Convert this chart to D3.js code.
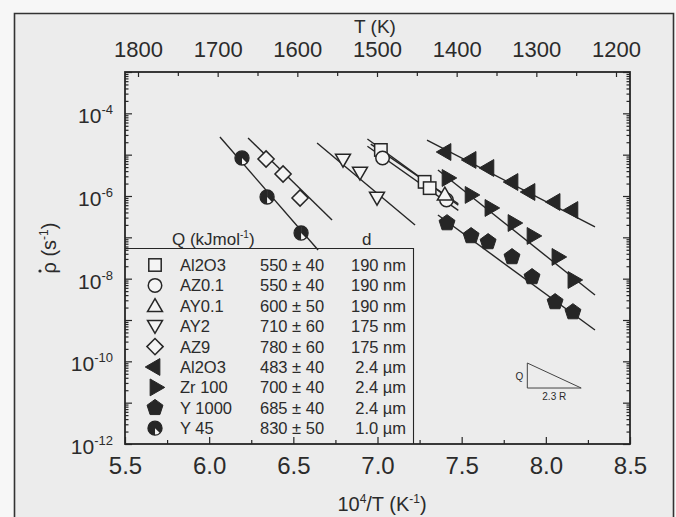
<!DOCTYPE html>
<html>
<head>
<meta charset="utf-8">
<script src="https://cdn.jsdelivr.net/npm/d3@7"></script>
<style>
  body { margin: 0; background: #f7f7f7; }
  svg text { font-family: "Liberation Sans", Arial, Helvetica, sans-serif; fill: #2b2b2b; }
</style>
</head>
<body>
<svg id="chart" width="676" height="517"></svg>
<script>
// ---- axis ticks ----
const xTicks = [5.5, 6.0, 6.5, 7.0, 7.5, 8.0, 8.5];
const xMinorTicks = [5.75, 6.25, 6.75, 7.25, 7.75, 8.25];
const tTicks = [1800, 1700, 1600, 1500, 1400, 1300, 1200];
const tMinorTicks = [1750, 1650, 1550, 1450, 1350, 1250];
const yLabelExps = [-4, -6, -8, -10, -12];

// ---- densification rate data: [10^4/T, rate (1/s)] ----
const al2o3Fine = [[7.02, 1.30e-5], [7.28, 2.20e-6], [7.31, 1.55e-6]];
const az01 = [[7.03, 8.3e-6], [7.41, 8.0e-7]];
const ay01 = [[7.40, 1.1e-6]];
const ay2 = [[6.795, 7.43e-6], [6.896, 3.61e-6], [6.997, 8.95e-7]];
const az9 = [[6.338, 7.87e-6], [6.439, 3.41e-6], [6.540, 8.95e-7]];
const al2o3Coarse = [[7.407, 1.16e-5], [7.556, 7.45e-6], [7.662, 4.76e-6], [7.805, 2.18e-6], [7.906, 1.25e-6], [8.055, 7.16e-7], [8.161, 4.58e-7]];
const zr100 = [[7.413, 2.73e-6], [7.550, 1.06e-6], [7.668, 5.13e-7], [7.805, 2.22e-7], [7.918, 1.08e-7], [8.066, 3.35e-8], [8.161, 9.29e-9]];
const y1000 = [[7.413, 2.22e-7], [7.556, 1.08e-7], [7.657, 7.73e-8], [7.799, 3.35e-8], [7.918, 1.10e-8], [8.055, 2.73e-9], [8.161, 1.56e-9]];
const y45 = [[6.195, 8.32e-6], [6.344, 9.46e-7], [6.546, 1.27e-7]];

// ---- Arrhenius fit lines: [[x0, rate0], [x1, rate1]] ----
const al2o3FineFit = [[6.94, 2.4e-5], [7.48, 6.0e-7]];
const az01Fit = [[6.94, 1.6e-5], [7.48, 4.5e-7]];
const ay01Fit = [[6.96, 1.8e-5], [7.48, 6.5e-7]];
const ay2Fit = [[6.641, 1.92e-5], [7.223, 1.99e-7]];
const az9Fit = [[6.231, 2.54e-5], [6.730, 2.63e-7]];
const al2o3CoarseFit = [[7.294, 2.26e-5], [8.292, 1.78e-7]];
const zr100Fit = [[7.359, 4.27e-6], [8.292, 4.03e-9]];
const y1000Fit = [[7.359, 3.47e-7], [8.292, 5.73e-10]];
const y45Fit = [[6.064, 2.68e-5], [6.647, 4.94e-8]];

// ---- legend table ----
const legendNames = ["Al2O3", "AZ0.1", "AY0.1", "AY2", "AZ9", "Al2O3", "Zr 100", "Y 1000", "Y 45"];
const legendQ = ["550 \u00b1 40", "550 \u00b1 40", "600 \u00b1 50", "710 \u00b1 60", "780 \u00b1 60", "483 \u00b1 40", "700 \u00b1 40", "685 \u00b1 40", "830 \u00b1 50"];
const legendD = ["190 nm", "190 nm", "190 nm", "175 nm", "175 nm", "2.4 \u00b5m", "2.4 \u00b5m", "2.4 \u00b5m", "1.0 \u00b5m"];
const legendSymbols = ["square", "circle", "triUp", "triDown", "diamond", "triLeft", "triRight", "pentagon", "halfCircle"];

// slope guide triangle (in data units)
const guideX = [7.89, 8.21];
const guideRate = [9.1e-11, 2.26e-11];

const seriesList = [
  { pts: al2o3Fine, fit: al2o3FineFit, sym: "square" },
  { pts: az01, fit: az01Fit, sym: "circle" },
  { pts: ay01, fit: ay01Fit, sym: "triUp" },
  { pts: ay2, fit: ay2Fit, sym: "triDown" },
  { pts: az9, fit: az9Fit, sym: "diamond" },
  { pts: al2o3Coarse, fit: al2o3CoarseFit, sym: "triLeft" },
  { pts: zr100, fit: zr100Fit, sym: "triRight" },
  { pts: y1000, fit: y1000Fit, sym: "pentagon" },
  { pts: y45, fit: y45Fit, sym: "halfCircle" }
];

const ink = "#262626";
const svg = d3.select("#chart");

// page background and outer border
svg.append("rect").attr("x", 14).attr("y", 13).attr("width", 660).attr("height", 510).attr("fill", "#ececec");
svg.append("path").attr("d", "M14.5,517V13.5H673.5V517").attr("fill", "none").attr("stroke", "#333").attr("stroke-width", 1.6);

const frame = { left: 125, right: 630, top: 72, bottom: 444 };
const x = d3.scaleLinear().domain([5.5, 8.5]).range([frame.left, frame.right]);
const y = d3.scaleLog().domain([1e-12, 1e-3]).range([frame.bottom, frame.top]);
const tScale = d3.scaleLinear().domain([1800, 1200]).range([138, 616]);

// ---- axes (ticks point inward) ----
function styleAxis(g) {
  g.select(".domain").remove();
  g.selectAll(".tick line").attr("stroke", ink).attr("stroke-width", 1.2);
}
svg.append("g").attr("transform", `translate(0,${frame.bottom})`)
  .call(d3.axisBottom(x).tickValues(xTicks).tickSize(-7).tickPadding(30).tickFormat(d3.format(".1f")))
  .call(styleAxis)
  .call(g => g.selectAll("text").attr("font-size", 24).attr("fill", "#2b2b2b").attr("dy", 0));
svg.append("g").attr("transform", `translate(0,${frame.bottom})`)
  .call(d3.axisBottom(x).tickValues(xMinorTicks).tickSize(-4).tickFormat(""))
  .call(styleAxis);

svg.append("g").attr("transform", `translate(0,${frame.top})`)
  .call(d3.axisTop(tScale).tickValues(tTicks).tickSize(-5).tickPadding(15).tickFormat(d3.format("d")))
  .call(styleAxis)
  .call(g => g.selectAll("text").attr("font-size", 22).attr("fill", "#2b2b2b").attr("dy", 0));
svg.append("g").attr("transform", `translate(0,${frame.top})`)
  .call(d3.axisTop(tScale).tickValues(tMinorTicks).tickSize(-4).tickFormat(""))
  .call(styleAxis);

const decades = d3.range(-12, -2).map(e => Math.pow(10, e));
const minors = [];
d3.range(-12, -3).forEach(e => { for (let k = 2; k <= 9; k++) minors.push(k * Math.pow(10, e)); });
[[frame.left, d3.axisLeft], [frame.right, d3.axisRight]].forEach(([px, ax]) => {
  svg.append("g").attr("transform", `translate(${px},0)`)
    .call(ax(y).tickValues(decades).tickSize(-7).tickFormat(""))
    .call(styleAxis);
  svg.append("g").attr("transform", `translate(${px},0)`)
    .call(ax(y).tickValues(minors).tickSize(-3.5).tickFormat(""))
    .call(styleAxis);
});

// frame
svg.append("rect").attr("x", frame.left).attr("y", frame.top)
  .attr("width", frame.right - frame.left).attr("height", frame.bottom - frame.top)
  .attr("fill", "none").attr("stroke", ink).attr("stroke-width", 1.8);

// y tick labels with superscript exponents
yLabelExps.forEach(e => {
  const t = svg.append("text").attr("x", 113).attr("y", y(Math.pow(10, e)) + 10)
    .attr("text-anchor", "end").attr("font-size", 21);
  t.append("tspan").text("10");
  t.append("tspan").attr("font-size", 13).attr("dy", -9).text(String(e));
});

// axis titles
svg.append("text").attr("x", 375).attr("y", 33).attr("text-anchor", "middle").attr("font-size", 19).text("T (K)");
const xt = svg.append("text").attr("x", 382).attr("y", 511).attr("text-anchor", "middle").attr("font-size", 20);
xt.append("tspan").text("10");
xt.append("tspan").attr("font-size", 12).attr("dy", -8).text("4");
xt.append("tspan").attr("dy", 8).text("/T (K");
xt.append("tspan").attr("font-size", 12).attr("dy", -8).text("-1");
xt.append("tspan").attr("dy", 8).text(")");
const ytg = svg.append("g").attr("transform", "translate(56,248) rotate(-90)");
const yt = ytg.append("text").attr("text-anchor", "middle").attr("font-size", 20);
yt.append("tspan").text("\u03c1 (s");
yt.append("tspan").attr("font-size", 12).attr("dy", -8).text("-1");
yt.append("tspan").attr("dy", 8).text(")");
// rate dot over rho
ytg.append("circle").attr("cx", -23).attr("cy", -16).attr("r", 1.6).attr("fill", "#2b2b2b");

// ---- marker shapes ----
function poly(pts) { return "M" + pts.map(p => p[0].toFixed(2) + "," + p[1].toFixed(2)).join("L") + "Z"; }
function regular(n, r, rot) {
  return d3.range(n).map(i => {
    const a = rot + i * 2 * Math.PI / n;
    return [r * Math.cos(a), r * Math.sin(a)];
  });
}
function drawSymbol(g, kind, cx, cy, s) {
  const grp = g.append("g").attr("transform", `translate(${cx},${cy})`);
  const open = { fill: "#f4f4f4", stroke: ink, "stroke-width": 1.5 };
  const solid = { fill: ink, stroke: ink, "stroke-width": 1 };
  const apply = (el, st) => { Object.entries(st).forEach(([k, v]) => el.attr(k, v)); return el; };
  if (kind === "square") apply(grp.append("rect").attr("x", -s * 0.46).attr("y", -s * 0.46).attr("width", s * 0.92).attr("height", s * 0.92), open);
  else if (kind === "circle") apply(grp.append("circle").attr("r", s * 0.5), open);
  else if (kind === "triUp") apply(grp.append("path").attr("d", poly(regular(3, s * 0.64, -Math.PI / 2))).attr("transform", "translate(0,1.5)"), open);
  else if (kind === "triDown") apply(grp.append("path").attr("d", poly(regular(3, s * 0.64, Math.PI / 2))).attr("transform", "translate(0,-1.5)"), open);
  else if (kind === "diamond") apply(grp.append("path").attr("d", poly(regular(4, s * 0.6, 0))), open);
  else if (kind === "triLeft") apply(grp.append("path").attr("d", poly(regular(3, s * 0.72, Math.PI))), solid);
  else if (kind === "triRight") apply(grp.append("path").attr("d", poly(regular(3, s * 0.72, 0))), solid);
  else if (kind === "pentagon") apply(grp.append("path").attr("d", poly(regular(5, s * 0.62, -Math.PI / 2))), solid);
  else if (kind === "halfCircle") {
    const r = s * 0.52;
    grp.append("circle").attr("r", r).attr("fill", "#f4f4f4").attr("stroke", ink).attr("stroke-width", 1.3);
    grp.append("path").attr("d", `M0,${-r}A${r},${r} 0 0 0 0,${r}Z`).attr("fill", ink);
    grp.append("path").attr("d", `M0,${-r}A${r},${r} 0 0 1 ${r * 0.7},${r * 0.7}L0,0Z`).attr("fill", ink);
  }
}

// ---- fit lines and data points ----
const plot = svg.append("g");
const lineGen = d3.line().x(d => x(d[0])).y(d => y(d[1]));
seriesList.forEach(s => {
  plot.append("path").attr("d", lineGen(s.fit)).attr("fill", "none").attr("stroke", ink).attr("stroke-width", 1.4);
});
seriesList.forEach(s => {
  s.pts.forEach(p => drawSymbol(plot, s.sym, x(p[0]), y(p[1]), 13.5));
});

// ---- legend table ----
const leg = svg.append("g");
leg.append("path").attr("d", `M${frame.left},248.5H413.5V${frame.bottom}`).attr("fill", "none").attr("stroke", ink).attr("stroke-width", 1.1);
const hq = leg.append("text").attr("x", 172).attr("y", 245).attr("font-size", 17);
hq.append("tspan").text("Q (kJmol");
hq.append("tspan").attr("font-size", 10).attr("dy", -7).text("-1");
hq.append("tspan").attr("dy", 7).text(")");
leg.append("text").attr("x", 362).attr("y", 245).attr("font-size", 17).text("d");
legendNames.forEach((name, i) => {
  const ry = 265 + i * 20.4;
  drawSymbol(leg, legendSymbols[i], 155, ry, 13.5);
  leg.append("text").attr("x", 180).attr("y", ry + 6).attr("font-size", 16.5).text(name);
  leg.append("text").attr("x", 260).attr("y", ry + 6).attr("font-size", 16.5).text(legendQ[i]);
  leg.append("text").attr("x", 406).attr("y", ry + 6).attr("font-size", 16.5).attr("text-anchor", "end").text(legendD[i]);
});

// slope guide
const gx0 = x(guideX[0]), gx1 = x(guideX[1]), gy0 = y(guideRate[0]), gy1 = y(guideRate[1]);
svg.append("path").attr("d", `M${gx0},${gy0}L${gx0},${gy1}L${gx1},${gy1}Z`).attr("fill", "none").attr("stroke", "#444").attr("stroke-width", 1);
svg.append("text").attr("x", gx0 - 4).attr("y", (gy0 + gy1) / 2 + 4).attr("text-anchor", "end").attr("font-size", 10).text("Q");
svg.append("text").attr("x", (gx0 + gx1) / 2).attr("y", gy1 + 12).attr("text-anchor", "middle").attr("font-size", 10).text("2.3 R");
</script>
</body>
</html>
